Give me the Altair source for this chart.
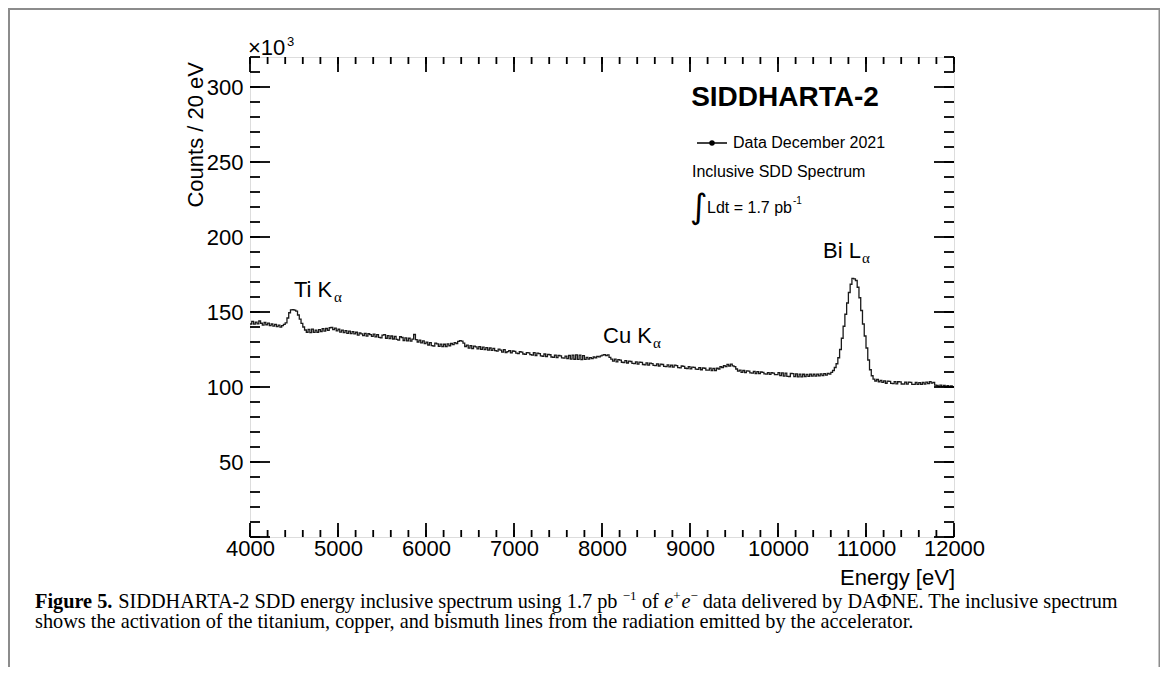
import altair as alt
import pandas as pd

# ---------------- data (counts in units of 10^3 per 20 eV bin) ----------------
BIN_START = 4000
BIN_WIDTH = 20
COUNTS = [
    # 4000-4380
    142.0, 143.8, 141.9, 143.2, 142.1, 144.0, 142.5, 141.3, 143.0, 141.5,
    142.6, 140.9, 142.0, 140.6, 141.8, 140.2, 141.2, 139.9, 140.9, 141.8,
    # 4400-4780 (Ti K-alpha)
    142.8, 146.0, 149.5, 151.4, 151.6, 151.2, 150.6, 148.0, 145.2, 142.4,
    140.0, 138.0, 136.5, 138.4, 136.2, 138.6, 136.4, 137.9, 136.5, 138.3,
    # 4800-5180
    137.0, 138.9, 137.2, 139.0, 137.8, 139.5, 139.8, 138.3, 139.2, 137.4,
    138.5, 136.6, 137.9, 136.2, 137.6, 135.8, 137.3, 135.6, 136.9, 135.4,
    # 5200-5580
    136.5, 134.6, 136.0, 135.4, 134.3, 135.8, 133.9, 135.5, 134.9, 133.7,
    135.2, 133.4, 134.9, 133.1, 132.8, 134.6, 134.9, 132.5, 134.3, 132.3,
    # 5600-5980
    134.0, 132.0, 133.8, 131.7, 131.3, 133.5, 133.0, 131.0, 132.8, 130.7,
    132.5, 130.6, 131.9, 135.0, 131.6, 130.0, 131.2, 129.4, 130.8, 128.9,
    # 6000-6380
    129.9, 128.0, 129.6, 127.6, 127.3, 129.2, 128.8, 127.1, 128.6, 126.9,
    128.5, 127.0, 128.7, 127.5, 129.0, 128.2, 129.6, 128.9, 130.4, 130.9,
    # 6400-6780
    130.6, 129.3, 127.0, 127.9, 125.9, 127.6, 125.6, 127.2, 126.8, 125.4,
    126.9, 125.1, 126.6, 124.9, 126.3, 124.6, 126.0, 124.4, 125.7, 124.2,
    # 6800-7180
    123.9, 125.2, 124.6, 123.3, 124.9, 123.0, 123.6, 124.3, 122.8, 124.0,
    123.7, 122.6, 122.3, 123.5, 123.2, 122.0, 121.8, 122.9, 122.7, 121.6,
    # 7200-7580
    121.3, 122.9, 121.0, 122.6, 122.3, 120.8, 120.5, 122.0, 120.3, 121.7,
    121.5, 120.0, 119.8, 121.2, 119.6, 121.0, 120.8, 119.4, 119.2, 120.6,
    # 7600-7980
    118.9, 121.0, 118.6, 121.3, 118.5, 121.4, 118.4, 121.2, 118.3, 120.9,
    118.4, 119.8, 118.6, 119.6, 118.9, 120.0, 119.4, 120.4, 120.1, 120.8,
    # 8000-8380 (Cu K-alpha)
    121.2, 121.6, 120.9, 121.4, 119.8, 118.6, 117.2, 118.6, 116.8, 118.2,
    117.9, 116.5, 116.2, 117.6, 116.0, 117.3, 117.0, 115.8, 115.6, 116.8,
    # 8400-8780
    115.3, 116.6, 116.4, 115.0, 114.8, 116.1, 114.6, 115.9, 115.6, 114.4,
    114.2, 115.4, 114.0, 115.2, 115.0, 113.8, 113.6, 114.8, 113.4, 114.6,
    # 8800-9180
    113.2, 114.6, 114.3, 112.9, 112.7, 114.0, 113.8, 112.5, 112.3, 113.6,
    112.1, 113.3, 113.1, 111.9, 111.7, 112.9, 111.5, 112.7, 112.5, 111.3,
    # 9200-9580
    111.2, 112.6, 111.0, 112.4, 110.9, 112.5, 112.0, 113.5, 113.0, 114.3,
    113.6, 115.0, 114.0, 115.2, 114.1, 113.6, 112.0, 110.6, 111.2, 109.8,
    # 9600-9980
    111.0, 109.6, 110.8, 110.6, 109.4, 109.2, 110.4, 109.0, 110.2, 108.9,
    110.0, 109.8, 108.7, 108.6, 109.6, 108.4, 109.5, 109.3, 108.3, 108.2,
    # 10000-10380
    109.6, 107.6, 109.4, 107.3, 109.2, 107.1, 107.0, 109.0, 108.9, 106.9,
    108.7, 106.8, 108.6, 106.8, 108.5, 107.0, 108.4, 107.1, 108.6, 107.3,
    # 10400-10780 (Bi L-alpha rise)
    108.5, 107.2, 108.6, 107.4, 108.8, 107.6, 108.9, 107.9, 109.1, 108.6,
    109.7, 111.0, 113.0, 115.5, 119.5, 125.0, 132.5, 140.5, 148.5, 156.0,
    # 10800-11180
    163.0, 168.5, 172.4, 172.1, 171.0, 166.5, 159.5, 151.0, 142.0, 134.0,
    126.0, 118.0, 111.5, 107.5, 105.3, 104.0, 105.0, 103.5, 104.4, 103.1,
    # 11200-11580
    104.1, 102.5, 103.9, 103.7, 102.4, 102.2, 103.6, 102.1, 103.5, 103.4,
    102.0, 101.9, 103.3, 101.9, 103.2, 103.1, 101.8, 101.8, 103.0, 101.7,
    # 11600-11980
    102.9, 101.7, 103.0, 101.9, 103.3, 102.2, 103.6, 102.6, 103.1, 101.2,
    101.0, 100.4, 101.2, 100.2, 101.0, 100.1, 100.9, 100.0, 100.8, 100.1,
]

X_DOMAIN = [4000, 12000]
Y_DOMAIN = [0, 320]
X_MAJOR = [4000, 5000, 6000, 7000, 8000, 9000, 10000, 11000, 12000]
X_MINOR = list(range(4000, 12001, 200))
Y_MAJOR = [0, 50, 100, 150, 200, 250, 300]
Y_MINOR = list(range(0, 321, 10))
Y_LABELS = [50, 100, 150, 200, 250, 300]

# ---------------- layout ----------------
W, H = 704, 480
SANS = "Liberation Sans"
SERIF = "Liberation Serif"
LAB = 22

edges = [BIN_START + BIN_WIDTH * i for i in range(len(COUNTS))]
df = pd.DataFrame({"E": edges + [X_DOMAIN[1]], "C": COUNTS + [COUNTS[-1]]})

xs = alt.Scale(domain=X_DOMAIN, nice=False, zero=False)
ys = alt.Scale(domain=Y_DOMAIN, nice=False, zero=False)

AXX = alt.Axis(values=X_MAJOR, format="d", ticks=False, tickSize=0, domain=False, grid=False,
               labelFont=SANS, labelFontSize=LAB, labelColor="black", labelPadding=1,
               labelFlush=False, labelOverlap=False, title=None)
AXY = alt.Axis(values=Y_LABELS, format="d", ticks=False, tickSize=0, domain=False, grid=False,
               labelFont=SANS, labelFontSize=LAB, labelColor="black", labelPadding=7,
               labelOverlap=False, title=None)

line = alt.Chart(df).mark_line(
    interpolate="step-after", color="#1a1a1a", strokeWidth=1.3
).encode(
    x=alt.X("E:Q", scale=xs, axis=AXX),
    y=alt.Y("C:Q", scale=ys, axis=AXY),
)


def xticks(vals, y1, y2):
    return alt.Chart(pd.DataFrame({"v": vals})).mark_rule(color="black", strokeWidth=1.8).encode(
        x=alt.X("v:Q", scale=xs, axis=AXX), y=alt.value(y1), y2=alt.value(y2))


def yticks(vals, x1, x2):
    return alt.Chart(pd.DataFrame({"v": vals})).mark_rule(color="black", strokeWidth=1.8).encode(
        y=alt.Y("v:Q", scale=ys, axis=AXY), x=alt.value(x1), x2=alt.value(x2))


def txt(s, x, y, size, align="left", baseline="alphabetic", font=SANS,
        weight="normal", style="normal", angle=0):
    return alt.Chart(alt.Data(values=[{"t": s}])).mark_text(
        x=x, y=y, fontSize=size, align=align, baseline=baseline, font=font,
        fontWeight=weight, fontStyle=style, angle=angle, color="black"
    ).encode(text="t:N")


def rule(x1, y1, x2, y2, color="black", w=1.5):
    return alt.Chart(alt.Data(values=[{"a": 1}])).mark_rule(color=color, strokeWidth=w).encode(
        x=alt.value(x1), y=alt.value(y1), x2=alt.value(x2), y2=alt.value(y2))


ticks = [
    xticks(X_MINOR, H, H - 7), xticks(X_MAJOR, H, H - 14),
    xticks(X_MINOR, 0, 7), xticks(X_MAJOR, 0, 15),
    yticks(Y_MINOR, 0, 10), yticks(Y_MAJOR, 0, 20),
    yticks(Y_MINOR, W, W - 10), yticks(Y_MAJOR, W, W - 20),
]

FRAME = "#8c8c8c"
frame = [
    rule(-241, -48, -241, 620, FRAME, 2),
    rule(-242, -48, 910, -48, FRAME, 2),
    rule(909.5, -48, 909.5, 620, FRAME, 2),
]

legend_dot = alt.Chart(alt.Data(values=[{"a": 1}])).mark_point(
    filled=True, size=30, color="black", shape="circle", opacity=1
).encode(x=alt.value(462), y=alt.value(86))

CAP = 20.3
texts = [
    txt("×10", -2, -2, LAB),
    txt("3", 37, -11, 13),
    txt("Counts / 20 eV", -54, 5, 22, align="right", baseline="middle", angle=270),
    txt("Energy [eV]", 705, 528, LAB, align="right"),
    txt("SIDDHARTA-2", 535, 49, 28, align="center", weight="bold"),
    txt("Data December 2021", 483, 91, 16),
    txt("Inclusive SDD Spectrum", 442, 120, 16),
    txt("∫", 440, 161, 34, font="DejaVu Sans"),
    txt("Ldt = 1.7 pb", 457, 156, 16),
    txt("-1", 543, 147, 10),
    txt("Ti K", 44, 240, LAB),
    txt("α", 84, 245, 15, font=SERIF),
    txt("Cu K", 353, 286, LAB),
    txt("α", 403, 291, 15, font=SERIF),
    txt("Bi L", 573, 201, LAB),
    txt("α", 612, 206, 15, font=SERIF),
    # caption
    txt("Figure 5.", -215, 551, CAP, font=SERIF, weight="bold"),
    txt("SIDDHARTA-2 SDD energy inclusive spectrum using 1.7 pb", -131.8, 551, CAP, font=SERIF),
    txt("−1", 372.7, 543, 13, font=SERIF),
    txt("of", 391.9, 551, CAP, font=SERIF),
    txt("e", 414.2, 551, CAP, font=SERIF, style="italic"),
    txt("+", 423.3, 543, 13, font=SERIF),
    txt("e", 431.4, 551, CAP, font=SERIF, style="italic"),
    txt("−", 440.5, 543, 13, font=SERIF),
    txt("data delivered by DAΦNE. The inclusive spectrum", 452.7, 551, CAP, font=SERIF),
    txt("shows the activation of the titanium, copper, and bismuth lines from the radiation emitted by the accelerator.",
        -215, 571, CAP, font=SERIF),
]

legend_line = rule(447, 86, 477, 86, "black", 1.5)

chart = alt.layer(
    line, *ticks, *frame, legend_line, legend_dot, *texts
).properties(
    width=W, height=H,
    autosize=alt.AutoSizeParams(type="none"),
    padding={"left": 242, "top": 49, "right": 206, "bottom": 130},
).configure_view(
    stroke="black", strokeWidth=2
).configure(background="white")

chart.save("out.html", embed_options={"renderer": "svg", "actions": False})
